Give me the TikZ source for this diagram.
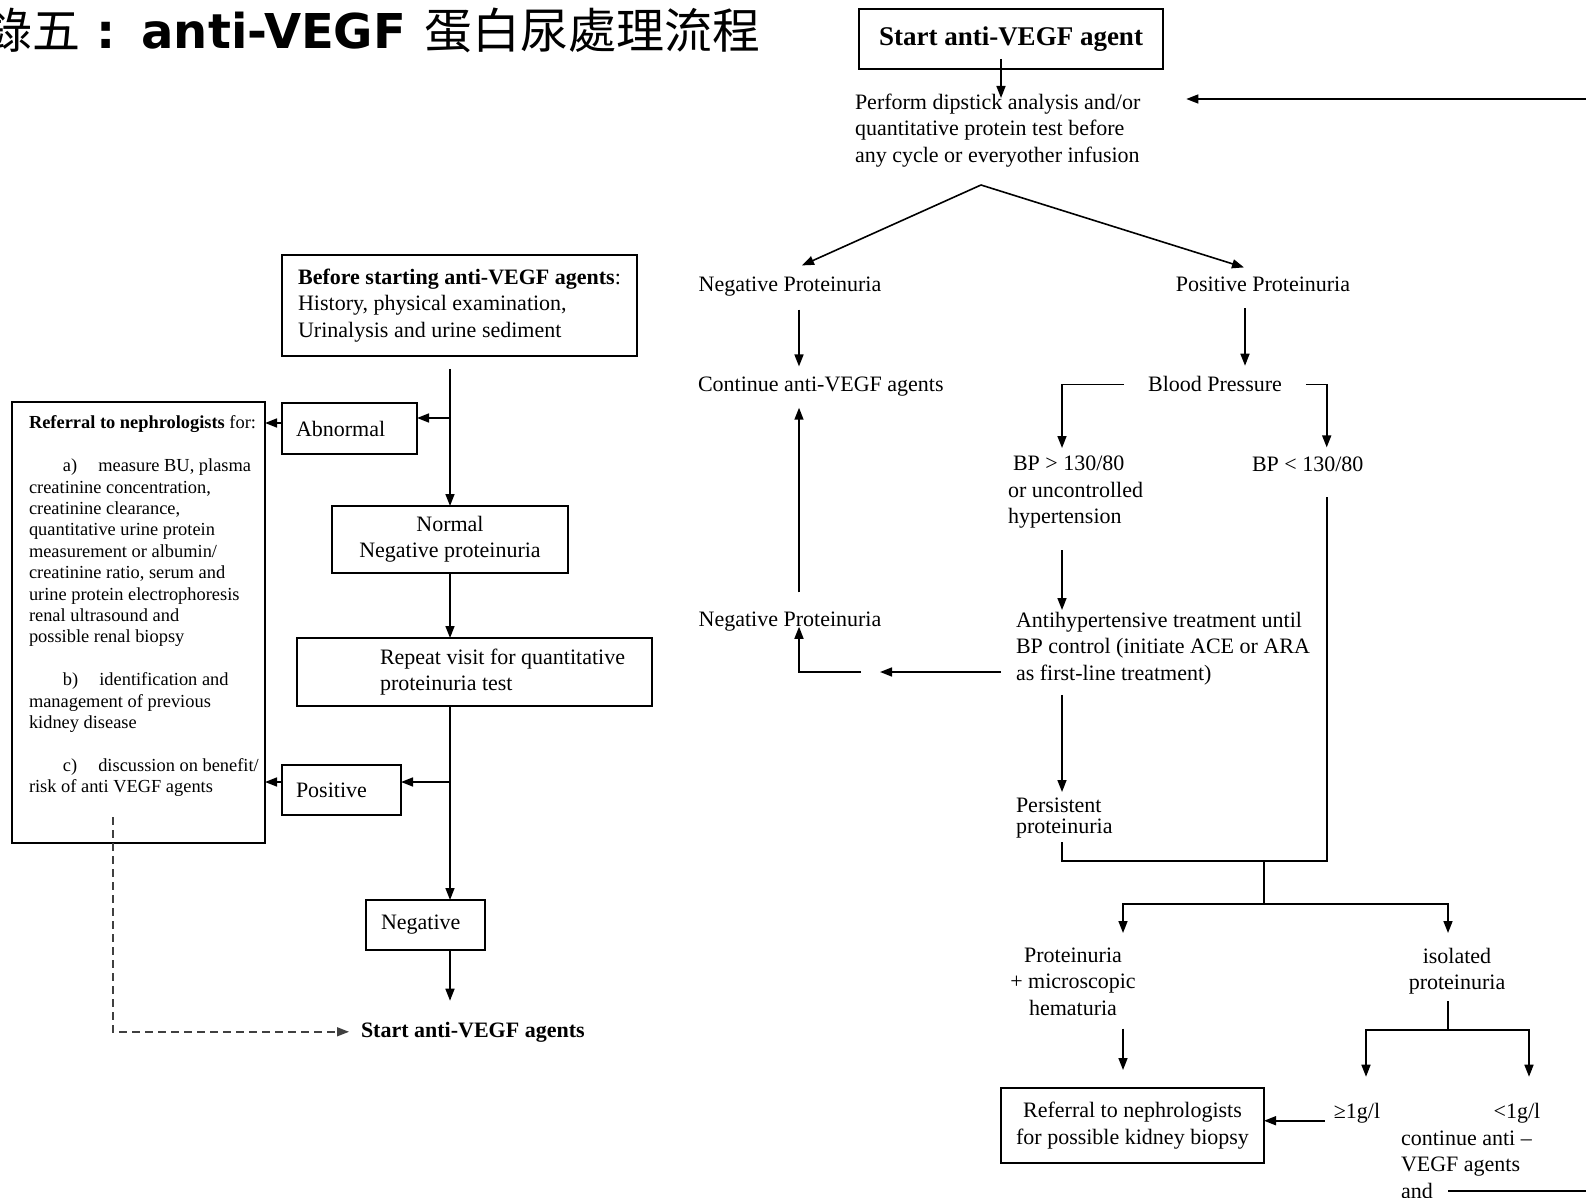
\documentclass[tikz,border=0pt]{standalone}
\usepackage{fontspec}
\setmainfont{Liberation Serif}
\newfontfamily\cjk[AutoFakeBold=2]{Noto Sans CJK TC}
\newfontfamily\titlesans{DejaVu Sans}
\usetikzlibrary{arrows.meta}
\begin{document}
\begin{tikzpicture}[x=0.5pt,y=-0.5pt]
\tikzset{
 arr/.style={-{Triangle[length=6pt,width=4.5pt]}, line width=0.8pt},
 ln/.style={line width=0.8pt},
 box/.style={draw, line width=0.9pt, inner sep=0pt, outer sep=0pt},
 t/.style={font=\fontsize{11}{13.2}\selectfont, inner sep=0pt, outer sep=0pt},
 ts/.style={font=\fontsize{9.2}{10.7}\selectfont, inner sep=0pt, outer sep=0pt},
}
\useasboundingbox (0,0) rectangle (1586,1198);

% title
\node[anchor=west, inner sep=0pt] (title) at (-16,30) {\fontsize{24}{28}\selectfont{\cjk 錄五}\hspace{8pt}{\titlesans\bfseries :}\hspace{13pt}{\titlesans\bfseries anti-VEGF}\hspace{9pt}{\cjk 蛋白尿處理流程}};

% ---------- right flow ----------
\node[box, minimum width=152pt, minimum height=30pt, font=\fontsize{13.5}{16}\selectfont\bfseries] (start) at (1011,39) {Start anti-VEGF agent};
\node[t, align=left, anchor=north west] (perform) at (855,94) {Perform dipstick analysis and/or\\quantitative protein test before\\any cycle or everyother infusion};
\draw[arr] ([xshift=-5pt,yshift=5pt]start.south) -- ([xshift=-5pt,yshift=-2pt]start.south |- perform.north);
\coordinate (rin) at (1586,99);
\draw[arr, shorten >=23pt] (rin) -- (perform.east |- rin);

\coordinate (apex) at (981,185);
\node[t, anchor=base] (negP) at (790,292) {Negative Proteinuria};
\node[t, anchor=base] (posP) at (1263,292) {Positive Proteinuria};
\draw[arr] (apex) -- ([xshift=6pt,yshift=6pt]negP.north);
\draw[arr] (apex) -- ([xshift=-9.5pt,yshift=5pt]posP.north);

\node[t, anchor=base west] (contA) at (698,392) {Continue anti-VEGF agents};
\draw[arr, shorten <=6.5pt, shorten >=5.5pt] ([xshift=4.5pt]negP.south) -- ([xshift=4.5pt]negP.south |- contA.north);

\node[t, anchor=base] (bp) at (1215,392) {Blood Pressure};
\draw[arr, shorten <=8pt, shorten >=5.5pt] ([xshift=-9pt]posP.south) -- ([xshift=-9pt]posP.south |- bp.north);

\node[t, align=left, anchor=north west] (bpH) at (1008,456) {\hspace*{2.5pt}BP > 130/80\\or uncontrolled\\hypertension};
\node[t, anchor=base west] (bpL) at (1252,471) {BP < 130/80};
\draw[arr] ([xshift=-12pt]bp.west) -| ([xshift=27pt,yshift=4pt]bpH.north west);
\draw[arr] ([xshift=12pt]bp.east) -| ([xshift=9.5pt,yshift=4.5pt]bpL.north);

\node[t, align=left, anchor=north west] (anti) at (1016,612) {Antihypertensive treatment until\\BP control (initiate ACE or ARA\\as first-line treatment)};
\draw[arr] ([xshift=27pt,yshift=-11pt]bpH.south west) -- ([xshift=23pt,yshift=1pt]anti.north west);

\node[t, anchor=base] (negP2) at (790,626) {Negative Proteinuria};
\coordinate (gapR) at (880,672);
\coordinate (gapL) at (861,672);
\draw[arr] ([xshift=-7.5pt]anti.west |- gapR) -- (gapR);
\draw[arr] (gapL) -| ([xshift=4.5pt,yshift=2pt]negP2.south);
\draw[arr, shorten <=9.5pt, shorten >=5.5pt] ([xshift=4.5pt]negP2.north) -- ([xshift=4.5pt]negP2.north |- contA.south);

\node[font=\fontsize{11}{10.5}\selectfont, inner sep=0pt, outer sep=0pt, align=left, anchor=north west] (pers) at (1016,798) {Persistent\\proteinuria};
\draw[arr] ([xshift=23pt,yshift=-5pt]anti.south west) -- ([xshift=23pt,yshift=3pt]pers.north west);

\coordinate (j1) at (1264,861);
\coordinate (j2) at (1264,904);
\draw[ln] ([xshift=23pt,yshift=-2pt]pers.south west) |- (j1) -| ([xshift=9.5pt,yshift=-13pt]bpL.south);
\draw[ln] (j1) -- (j2);

\node[t, align=center, anchor=north] (prot) at (1073,948) {Proteinuria\\+ microscopic\\hematuria};
\node[t, align=center, anchor=north] (isol) at (1457,948) {isolated\\proteinuria};
\draw[arr] (j2) -| ([xshift=25pt,yshift=7.5pt]prot.north);
\draw[arr] (j2) -| ([xshift=-4.5pt,yshift=7.5pt]isol.north);

\node[box, t, align=center, minimum width=131.5pt, minimum height=37.5pt] (ref2) at (1132.5,1125.5) {Referral to nephrologists\\for possible kidney biopsy};
\draw[arr, shorten <=6.5pt, shorten >=9pt] ([xshift=25pt]prot.south) -- ([xshift=25pt]prot.south |- ref2.north);

\coordinate (j3) at (1448,1030);
\draw[ln, shorten <=3.5pt] ([xshift=-4.5pt]isol.south) -- (j3);
\node[t, anchor=base] (ge) at (1357,1118) {≥1g/l};
\node[t, anchor=base] (lt) at (1517,1118) {<1g/l};
\draw[arr] (j3) -| ([xshift=4.5pt,yshift=13pt]ge.north);
\draw[arr] (j3) -| ([xshift=6pt,yshift=13pt]lt.north);
\draw[arr] ([xshift=-4.5pt,yshift=-4pt]ge.west) -- ([yshift=-4pt]ge.west -| ref2.east);

\node[t, align=left, anchor=north west] (cont2) at (1401,1131) {continue anti –\\VEGF agents\\and};
\coordinate (rout) at (1586,1191);
\draw[ln] ([xshift=23.5pt]cont2.south west |- rout) -- (rout);

% ---------- left flow ----------
\node[box, t, align=left, minimum width=177.5pt, minimum height=50.5pt] (before) at (459.5,305.5) {\textbf{Before starting anti-VEGF agents}:\\History, physical examination,\\Urinalysis and urine sediment};
\node[box, t, align=left, text width=53.5pt, inner xsep=7pt, minimum width=67.5pt, minimum height=25.5pt] (abn) at (349.5,428.5) {Abnormal};
\node[box, t, align=center, minimum width=118pt, minimum height=33.5pt] (normal) at (450,539.5) {Normal\\Negative proteinuria};
\node[box, minimum width=177.5pt, minimum height=34pt] (rep) at (474.5,672) {};
\node[t, align=left, anchor=west] (repT) at ([xshift=41.5pt]rep.west) {Repeat visit for quantitative\\proteinuria test};
\node[box, t, align=left, text width=45.5pt, inner xsep=7pt, minimum width=59.5pt, minimum height=25pt] (pos) at (341.5,790) {Positive};
\node[box, t, align=left, text width=44.5pt, inner xsep=7.5pt, minimum width=59.5pt, minimum height=25pt] (neg) at (425.5,925) {Negative};
\node[t, font=\fontsize{11}{13.2}\selectfont\bfseries, anchor=base west] (startL) at (361,1037) {Start anti-VEGF agents};

\node[box, minimum width=126.5pt, minimum height=220.5pt] (ref1) at (138.5,622.5) {};
\node[ts, align=left, anchor=north west] (ref1T) at (29,416) {\textbf{Referral to nephrologists} for:\\[10.7pt]
\hspace*{17pt}a)\hspace{10.5pt}measure BU, plasma\\
creatinine concentration,\\
creatinine clearance,\\
quantitative urine protein\\
measurement or albumin/\\
creatinine ratio, serum and\\
urine protein electrophoresis\\
renal ultrasound and\\
possible renal biopsy\\[10.7pt]
\hspace*{17pt}b)\hspace{10.5pt}identification and\\
management of previous\\
kidney disease\\[10.7pt]
\hspace*{17pt}c)\hspace{10.5pt}discussion on benefit/\\
risk of anti VEGF agents};

\draw[arr, shorten <=6.5pt] (before.south -| normal.north) -- (normal.north);
\draw[arr] ([yshift=5.25pt]abn.east -| normal.north) -- ([yshift=5.25pt]abn.east);
\draw[arr] ([yshift=2.75pt]abn.west) -- ([yshift=2.75pt]abn.west -| ref1.east);
\draw[arr] (normal.south) -- (normal.south |- rep.north);
\draw[arr] (rep.south -| normal.south) -- (neg.north -| normal.south);
\draw[arr] ([yshift=4pt]pos.east -| normal.south) -- ([yshift=4pt]pos.east);
\draw[arr] ([yshift=4pt]pos.west) -- ([yshift=4pt]pos.west -| ref1.east);
\draw[arr, shorten >=10.5pt] (neg.south -| normal.south) -- (normal.south |- startL.north);
\draw[arr, dash pattern=on 4pt off 2.5pt, black!75] ([xshift=-12.75pt,yshift=13pt]ref1.south) |- ([xshift=-6pt]startL.west);
\end{tikzpicture}
\end{document}
